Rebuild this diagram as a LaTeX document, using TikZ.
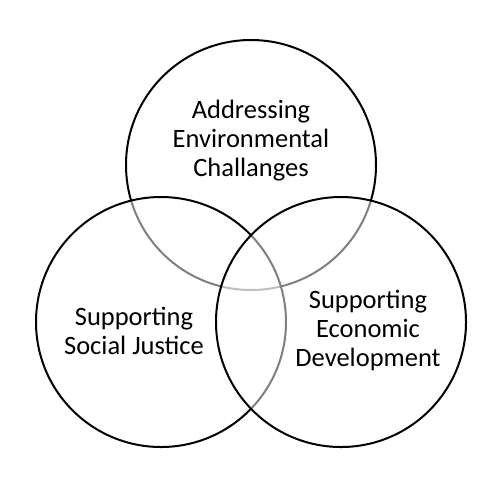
\documentclass[tikz,border=0pt]{standalone}
\usepackage{fontspec}
\setmainfont{Carlito}
\usetikzlibrary{positioning}
\tikzset{ring/.style={circle, draw=black, line width=2pt, fill=white, fill opacity=0.5, minimum size=250pt, inner sep=0pt},
         caption/.style={align=center, font=\fontsize{26.5}{29}\selectfont}}
\begin{document}
\begin{tikzpicture}[x=1pt,y=-1pt]
  \useasboundingbox (0,0) rectangle (502,499);
  \node[ring] (ctop) at (251,165) {};
  \node[ring] (cleft) at (161,322) {};
  \node[ring] (cright) at (341,322) {};
  \node[caption] (env) at (251,141) {Addressing\\Environmental\\Challanges};
  \node[caption] (social) at (134,331) {Supporting\\Social Justice};
  \node[caption] (econ) at (368,330) {Supporting\\Economic\\Development};
\end{tikzpicture}
\end{document}
